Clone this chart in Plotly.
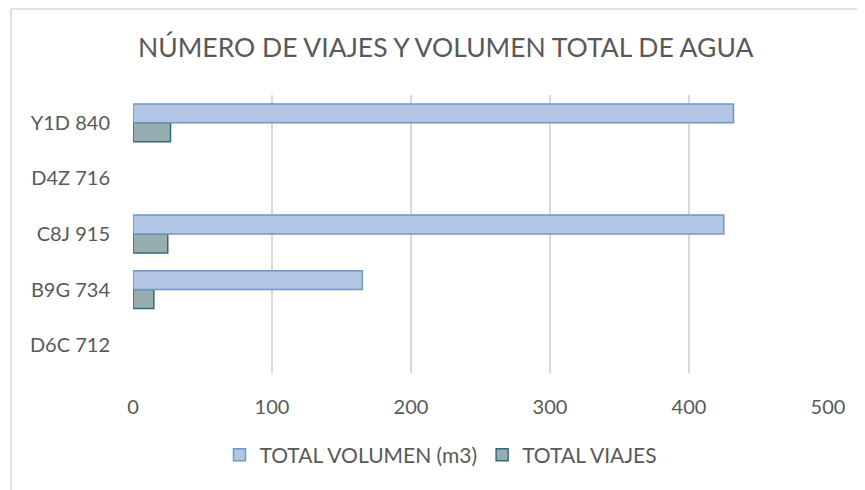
import plotly.graph_objects as go

categories = ["D6C 712", "B9G 734", "C8J 915", "D4Z 716", "Y1D 840"]
total_volumen = [None, 165, 425, None, 432]
total_viajes = [None, 15, 25, None, 27]
x_ticks = [0, 100, 200, 300, 400, 500]

TXT = "#595959"
FONT = "Lato, 'Open Sans', sans-serif"

fig = go.Figure()
fig.add_trace(go.Bar(
    y=categories, x=total_viajes, orientation="h", name="TOTAL VIAJES",
    marker=dict(color="#98ADB0", line=dict(color="#2F6C7D", width=1.5)),
    legendrank=2,
))
fig.add_trace(go.Bar(
    y=categories, x=total_volumen, orientation="h", name="TOTAL VOLUMEN (m3)",
    marker=dict(color="#B1C5E5", line=dict(color="#6F96CA", width=1.5)),
    legendrank=1,
))

OFF = 8  # page offset of the figure inside the browser window
W, H = 865, 490
L, R, T, B = 133 - OFF, W - (828 - OFF), 95 - OFF, H - (373 - OFF)
pw = W - L - R
ph = H - T - B

def px(xp):
    return (xp - OFF - L) / pw

def py(yp):
    return (H - B - (yp - OFF)) / ph

fig.update_layout(
    width=W, height=H,
    margin=dict(l=L, r=R, t=T, b=B, pad=0),
    paper_bgcolor="white", plot_bgcolor="white",
    barmode="group", bargap=0.32, bargroupgap=0,
    font=dict(family=FONT, color=TXT, size=20),
    showlegend=True,
    legend=dict(orientation="h", x=px(441), xanchor="center", y=py(455), yanchor="middle",
                font=dict(size=21, color=TXT), traceorder="normal",
                itemwidth=30, tracegroupgap=0, bgcolor="rgba(0,0,0,0)"),
    xaxis=dict(range=[0, 500], tickvals=x_ticks, showgrid=True, gridcolor="#D9D9D9",
               gridwidth=1.5, zeroline=False, showline=False, ticks="",
               tickfont=dict(size=20, color=TXT), ticklabelstandoff=20, fixedrange=True),
    yaxis=dict(categoryorder="array", categoryarray=categories, showgrid=False,
               zeroline=False, showline=False, ticks="",
               tickfont=dict(size=20, color=TXT), ticklabelstandoff=22, fixedrange=True),
    annotations=[dict(text="NÚMERO DE VIAJES Y VOLUMEN TOTAL DE AGUA", xref="paper", yref="paper",
                      x=px(445), y=py(47), xanchor="center", yanchor="middle", showarrow=False,
                      font=dict(size=26.5, color=TXT, family=FONT))],
    shapes=[dict(type="rect", xref="paper", yref="paper", x0=px(11), x1=px(890), y0=py(520), y1=py(9),
                 line=dict(color="#D9D9D9", width=1.5), fillcolor="rgba(0,0,0,0)", layer="below")],
)

fig.write_html("out.html")
